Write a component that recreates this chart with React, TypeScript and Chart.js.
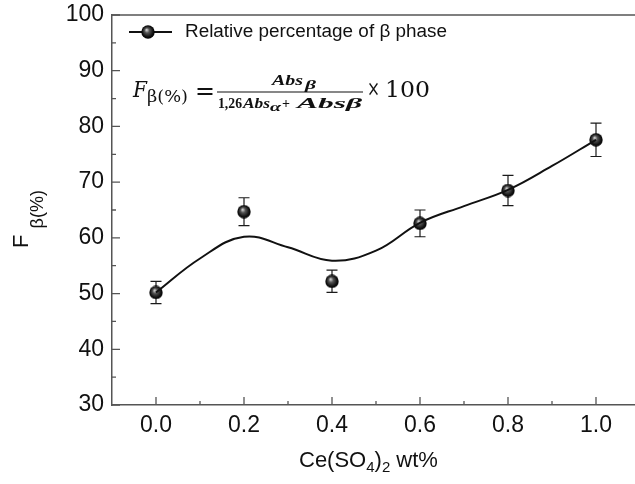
import React, { useEffect, useRef } from "react";
import { Chart, registerables } from "chart.js";

Chart.register(...registerables);

// Ce(SO4)2 content (wt%) and relative β-phase fraction with its error
const concentrations = [0.0, 0.2, 0.4, 0.6, 0.8, 1.0];
const betaFraction = [50.2, 64.7, 52.2, 62.6, 68.5, 77.6];
const betaError = [2.0, 2.5, 2.0, 2.4, 2.7, 3.0];

// smoothed trend line through the measurements
const fitX = [0.0, 0.1, 0.2, 0.3, 0.4, 0.5, 0.6, 0.7, 0.8, 0.9, 1.0];
const fitY = [50.2, 56.3, 60.2, 58.3, 55.9, 57.7, 62.7, 65.7, 68.6, 72.9, 77.6];

const xTicks = [0.0, 0.2, 0.4, 0.6, 0.8, 1.0];
const yTicks = [30, 40, 50, 60, 70, 80, 90, 100];

const legendText = "Relative percentage of β phase";
const axisColor = "#555555";
const sans = "'Liberation Sans', Arial, sans-serif";
const serif = "'DejaVu Serif', 'Liberation Serif', serif";
const serif2 = "'Liberation Serif', serif";

function makeSphere(size: number): HTMLCanvasElement {
  const c = document.createElement("canvas");
  c.width = size;
  c.height = size;
  const g = c.getContext("2d")!;
  const r = size / 2;
  const grad = g.createRadialGradient(r * 0.8, r * 0.7, 0.5, r, r, r);
  grad.addColorStop(0, "#c8c8c8");
  grad.addColorStop(0.3, "#555555");
  grad.addColorStop(0.75, "#111111");
  grad.addColorStop(1, "#000000");
  g.fillStyle = grad;
  g.beginPath();
  g.arc(r, r, r - 0.3, 0, Math.PI * 2);
  g.fill();
  return c;
}

// draws text squeezed or stretched to span a given width
function fitText(ctx: CanvasRenderingContext2D, t: string, x: number, y: number, w: number) {
  const m = ctx.measureText(t).width;
  ctx.save();
  ctx.translate(x, y);
  ctx.scale(w / m, 1);
  ctx.fillText(t, 0, 0);
  ctx.restore();
}

export default function App() {
  const canvasRef = useRef<HTMLCanvasElement | null>(null);

  useEffect(() => {
    const canvas = canvasRef.current;
    if (!canvas) return;
    const sphere = makeSphere(14);

    const decorations = {
      id: "decorations",
      beforeDatasetsDraw(chart: any) {
        const { ctx, chartArea } = chart;
        const xs = chart.scales.x;
        const ys = chart.scales.y;
        ctx.save();
        // top frame line
        ctx.strokeStyle = axisColor;
        ctx.lineWidth = 1.5;
        ctx.beginPath();
        ctx.moveTo(chartArea.left, chartArea.top);
        ctx.lineTo(chartArea.right, chartArea.top);
        ctx.stroke();
        // inward ticks, major and minor
        ctx.lineWidth = 1.3;
        ctx.beginPath();
        for (let i = 0; i < xTicks.length; i++) {
          const px = xs.getPixelForValue(xTicks[i]);
          ctx.moveTo(px, chartArea.bottom);
          ctx.lineTo(px, chartArea.bottom - 8);
          const mx = xs.getPixelForValue(xTicks[i] + 0.1);
          ctx.moveTo(mx, chartArea.bottom);
          ctx.lineTo(mx, chartArea.bottom - 4);
        }
        for (let i = 0; i < yTicks.length; i++) {
          const py = ys.getPixelForValue(yTicks[i]);
          ctx.moveTo(chartArea.left, py);
          ctx.lineTo(chartArea.left + 8, py);
          if (i < yTicks.length - 1) {
            const my = ys.getPixelForValue(yTicks[i] + 5);
            ctx.moveTo(chartArea.left, my);
            ctx.lineTo(chartArea.left + 4, my);
          }
        }
        ctx.stroke();
        // error bars
        ctx.strokeStyle = "#1a1a1a";
        ctx.lineWidth = 1.2;
        ctx.beginPath();
        for (let i = 0; i < concentrations.length; i++) {
          const px = xs.getPixelForValue(concentrations[i]);
          const top = ys.getPixelForValue(betaFraction[i] + betaError[i]);
          const bot = ys.getPixelForValue(betaFraction[i] - betaError[i]);
          ctx.moveTo(px, top);
          ctx.lineTo(px, bot);
          ctx.moveTo(px - 5.5, top);
          ctx.lineTo(px + 5.5, top);
          ctx.moveTo(px - 5.5, bot);
          ctx.lineTo(px + 5.5, bot);
        }
        ctx.stroke();
        ctx.restore();
      },
      afterDraw(chart: any) {
        const { ctx } = chart;
        ctx.save();
        ctx.fillStyle = "#111";

        // legend
        ctx.strokeStyle = "#111";
        ctx.lineWidth = 2;
        ctx.beginPath();
        ctx.moveTo(129, 32);
        ctx.lineTo(172, 32);
        ctx.stroke();
        ctx.drawImage(sphere, 148 - 7, 32 - 7);
        ctx.font = `18px ${sans}`;
        ctx.textBaseline = "middle";
        fitText(ctx, legendText, 185, 32, 262);

        // formula
        ctx.textBaseline = "alphabetic";
        ctx.font = `italic 22px ${serif}`;
        fitText(ctx, "F", 133, 97, 14);
        ctx.font = `17px ${serif}`;
        fitText(ctx, "β(%)", 147, 102, 41);
        ctx.font = `24px ${serif}`;
        fitText(ctx, "=", 195, 99, 20);
        ctx.lineWidth = 1.1;
        ctx.beginPath();
        ctx.moveTo(217, 92);
        ctx.lineTo(363, 92);
        ctx.stroke();
        ctx.font = `bold italic 14px ${serif2}`;
        fitText(ctx, "Abs", 272, 85, 31);
        ctx.font = `bold italic 13px ${serif2}`;
        fitText(ctx, "β", 305, 89, 11);
        ctx.font = `bold 14px ${serif2}`;
        fitText(ctx, "1,26", 218, 108, 24);
        ctx.font = `bold italic 14px ${serif2}`;
        fitText(ctx, "Abs", 243, 108, 27);
        ctx.font = `bold italic 13px ${serif2}`;
        fitText(ctx, "α", 270, 111, 11);
        ctx.font = `bold 14px ${serif2}`;
        fitText(ctx, "+", 282, 108, 8);
        ctx.font = `bold italic 14px ${serif2}`;
        fitText(ctx, "Absβ", 297, 108, 65);
        ctx.font = `22px ${serif}`;
        fitText(ctx, "×", 367, 96, 13);
        fitText(ctx, "100", 385, 97, 45);

        // y-axis title with subscript
        ctx.save();
        ctx.translate(28, 248);
        ctx.rotate(-Math.PI / 2);
        ctx.font = `22px ${sans}`;
        ctx.fillText("F", 0, 0);
        const wF = ctx.measureText("F ").width;
        ctx.font = `18px ${sans}`;
        ctx.fillText("β(%)", wF, 15);
        ctx.restore();

        // x-axis title with subscripts
        let x = 299;
        const base = 467;
        const big = `22px ${sans}`;
        const small = `15px ${sans}`;
        const parts: [string, string, number][] = [
          ["Ce(SO", big, 0],
          ["4", small, 5],
          [")", big, 0],
          ["2", small, 5],
          [" wt%", big, 0],
        ];
        for (const [t, f, dy] of parts) {
          ctx.font = f;
          ctx.fillText(t, x, base + dy);
          x += ctx.measureText(t).width;
        }
        ctx.restore();
      },
    };

    const chart = new Chart(canvas, {
      type: "line",
      data: {
        datasets: [
          {
            label: "fit",
            data: fitX.map((v, i) => ({ x: v, y: fitY[i] })),
            borderColor: "#111111",
            borderWidth: 2,
            pointRadius: 0,
            tension: 0.4,
            fill: false,
          },
          {
            label: legendText,
            data: concentrations.map((v, i) => ({ x: v, y: betaFraction[i] })),
            showLine: false,
            pointStyle: sphere as any,
            pointRadius: 7,
          },
        ],
      },
      options: {
        animation: false,
        responsive: true,
        maintainAspectRatio: false,
        layout: { padding: { top: 15, right: 20, left: 0, bottom: 0 } },
        plugins: { legend: { display: false }, tooltip: { enabled: false } },
        scales: {
          x: {
            type: "linear",
            min: -0.1,
            max: 1.1,
            grid: { display: false, drawTicks: false },
            border: { display: true, color: axisColor, width: 1.5 },
            afterBuildTicks: (s: any) => {
              s.ticks = xTicks.map((v) => ({ value: v }));
            },
            afterFit: (s: any) => {
              s.height = 79;
              s.paddingLeft = 0;
              s.paddingRight = 0;
            },
            ticks: {
              padding: 7,
              color: "#111",
              font: { family: sans, size: 23 },
              callback: (v: any) => Number(v).toFixed(1),
            },
          },
          y: {
            min: 30,
            max: 100,
            grid: { display: false, drawTicks: false },
            border: { display: true, color: axisColor, width: 1.5 },
            afterBuildTicks: (s: any) => {
              s.ticks = yTicks.map((v) => ({ value: v }));
            },
            afterFit: (s: any) => {
              s.width = 112;
              s.paddingTop = 0;
              s.paddingBottom = 0;
            },
            ticks: {
              padding: 8,
              color: "#111",
              font: { family: sans, size: 23 },
            },
          },
        },
      },
      plugins: [decorations],
    });
    return () => chart.destroy();
  }, []);

  return (
    <div
      style={{
        position: "fixed",
        left: 0,
        top: 0,
        width: 635,
        height: 484,
        overflow: "hidden",
        background: "#fff",
      }}
    >
      <div style={{ position: "relative", width: 660, height: 484 }}>
        <canvas ref={canvasRef} />
      </div>
    </div>
  );
}
